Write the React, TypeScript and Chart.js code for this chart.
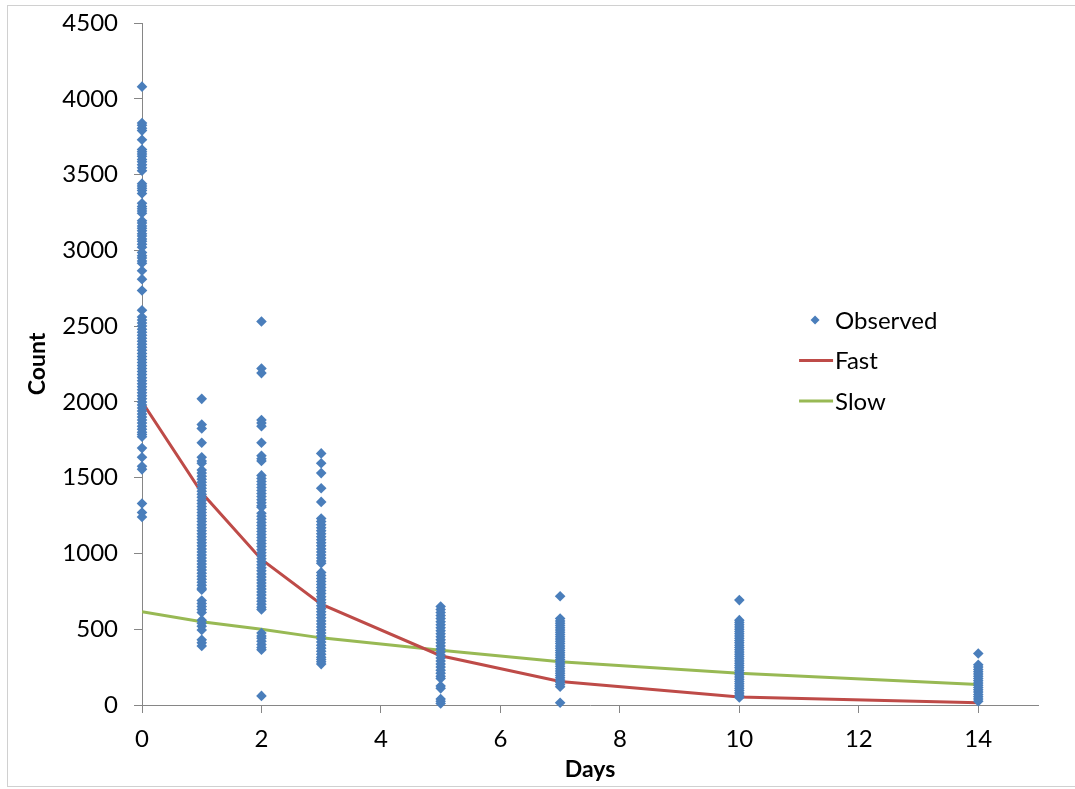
import React, { useEffect, useRef } from "react";
import { Chart, registerables } from "chart.js";

Chart.register(...registerables);

// Observation days
const days = [0, 1, 2, 3, 5, 7, 10, 14];

// Observed counts per day
const obsDay0 = [4080, 3840, 3825, 3805, 3790, 3730, 3665, 3650, 3635, 3620, 3600, 3585, 3565, 3545, 3525, 3440, 3425, 3410, 3395, 3375, 3310, 3290, 3275, 3260, 3245, 3195, 3180, 3160, 3145, 3130, 3110, 3095, 3075, 3060, 3040, 3020, 2985, 2965, 2950, 2930, 2915, 2865, 2810, 2735, 2605, 2560, 2540, 2520, 2500, 2480, 2460, 2440, 2420, 2400, 2380, 2360, 2340, 2320, 2300, 2280, 2260, 2240, 2220, 2200, 2180, 2160, 2140, 2120, 2100, 2080, 2060, 2040, 2020, 2000, 1980, 1960, 1940, 1920, 1900, 1880, 1860, 1840, 1820, 1800, 1785, 1770, 1695, 1635, 1575, 1555, 1330, 1270, 1240];
const obsDay1 = [2020, 1850, 1825, 1730, 1635, 1610, 1595, 1550, 1530, 1510, 1490, 1470, 1450, 1430, 1410, 1390, 1370, 1350, 1330, 1310, 1290, 1270, 1250, 1230, 1210, 1190, 1170, 1150, 1130, 1110, 1090, 1070, 1050, 1030, 1010, 990, 970, 950, 930, 910, 890, 870, 850, 830, 810, 790, 770, 760, 690, 670, 650, 630, 610, 560, 540, 520, 495, 430, 410, 390];
const obsDay2 = [2530, 2220, 2190, 1880, 1860, 1840, 1730, 1645, 1625, 1610, 1515, 1495, 1475, 1455, 1435, 1415, 1395, 1375, 1355, 1335, 1315, 1305, 1265, 1245, 1225, 1205, 1185, 1165, 1145, 1125, 1105, 1085, 1065, 1045, 1025, 1005, 985, 965, 945, 925, 905, 885, 865, 845, 825, 805, 785, 765, 745, 725, 705, 685, 665, 645, 630, 475, 455, 440, 420, 400, 380, 365, 60];
const obsDay3 = [1660, 1595, 1530, 1430, 1340, 1230, 1210, 1190, 1170, 1150, 1130, 1110, 1090, 1070, 1050, 1030, 1010, 990, 970, 950, 935, 875, 855, 835, 815, 795, 775, 755, 735, 715, 695, 675, 655, 635, 615, 595, 575, 555, 535, 515, 495, 475, 455, 435, 415, 395, 375, 355, 335, 315, 300, 285, 270];
const obsDay5 = [650, 630, 610, 590, 570, 550, 530, 510, 490, 470, 450, 430, 410, 390, 370, 350, 330, 310, 290, 270, 250, 230, 210, 190, 175, 125, 110, 40, 25, 10];
const obsDay7 = [718, 570, 555, 540, 525, 510, 495, 480, 465, 450, 435, 420, 405, 390, 375, 360, 345, 330, 315, 300, 285, 270, 255, 240, 225, 210, 195, 180, 165, 150, 135, 120, 15];
const obsDay10 = [692, 560, 545, 530, 515, 500, 485, 470, 455, 440, 425, 410, 395, 380, 365, 350, 335, 320, 305, 290, 275, 260, 245, 230, 215, 200, 185, 170, 155, 140, 125, 110, 95, 80, 65, 50];
const obsDay14 = [340, 265, 250, 235, 220, 205, 190, 175, 160, 145, 130, 115, 100, 85, 70, 55, 40, 25];
const observedByDay = [obsDay0, obsDay1, obsDay2, obsDay3, obsDay5, obsDay7, obsDay10, obsDay14];

// Model curves
const fastValues = [2000, 1400, 960, 665, 325, 155, 52, 15];
const slowValues = [615, 550, 500, 443, 362, 285, 210, 135];

// Axis ticks
const xTickValues = [0, 2, 4, 6, 8, 10, 12, 14];
const yTickValues = [0, 500, 1000, 1500, 2000, 2500, 3000, 3500, 4000, 4500];

const seriesNames = ["Observed", "Fast", "Slow"];
const BLUE = "#4A7EBB";
const RED = "#BE4B48";
const GREEN = "#98B954";
const AXIS = "#868686";
const FONT = "Lato, 'Open Sans', sans-serif";

export default function App() {
  const ref = useRef<HTMLCanvasElement | null>(null);

  useEffect(() => {
    document.body.style.margin = "0";
    const canvas = ref.current;
    if (!canvas) return;

    const observed = observedByDay.flatMap((vals, i) =>
      vals.map((v) => ({ x: days[i], y: v }))
    );
    const fast = days.map((d, i) => ({ x: d, y: fastValues[i] }));
    const slow = days.map((d, i) => ({ x: d, y: slowValues[i] }));

    const framePlugin = {
      id: "frame",
      beforeDraw(chart: any) {
        const ctx = chart.ctx;
        ctx.save();
        ctx.fillStyle = "#ffffff";
        ctx.fillRect(0, 0, chart.width, chart.height);
        ctx.strokeStyle = "#d0d0d0";
        ctx.lineWidth = 1;
        ctx.strokeRect(7.5, 5.5, 1200, 781);
        ctx.restore();
      },
    };

    const legendPlugin = {
      id: "innerLegend",
      afterDraw(chart: any) {
        const ctx = chart.ctx;
        const xs = chart.scales.x;
        const ys = chart.scales.y;
        const x0 = xs.getPixelForValue(11.0);
        const yTop = ys.getPixelForValue(2540);
        const gap = 40.5;
        ctx.save();
        ctx.font = `24px ${FONT}`;
        ctx.fillStyle = "#000";
        ctx.textBaseline = "middle";
        ctx.textAlign = "left";
        seriesNames.forEach((name, i) => {
          const y = yTop + i * gap;
          if (i === 0) {
            const cx = x0 + 16;
            const r = 4.5;
            ctx.fillStyle = BLUE;
            ctx.beginPath();
            ctx.moveTo(cx, y - r);
            ctx.lineTo(cx + r, y);
            ctx.lineTo(cx, y + r);
            ctx.lineTo(cx - r, y);
            ctx.closePath();
            ctx.fill();
          } else {
            ctx.strokeStyle = i === 1 ? RED : GREEN;
            ctx.lineWidth = 3;
            ctx.beginPath();
            ctx.moveTo(x0, y);
            ctx.lineTo(x0 + 34, y);
            ctx.stroke();
          }
          ctx.fillStyle = "#000";
          ctx.fillText(name, x0 + 36, y + 1);
        });
        ctx.restore();
      },
    };

    const chart = new Chart(canvas, {
      type: "scatter",
      data: {
        datasets: [
          {
            label: seriesNames[0],
            data: observed,
            order: 0,
            clip: false,
            pointStyle: "rectRot",
            pointRadius: 5.3,
            pointBorderWidth: 0,
            backgroundColor: BLUE,
            borderColor: BLUE,
            showLine: false,
          },
          {
            type: "line",
            label: seriesNames[1],
            data: fast,
            order: 1,
            borderColor: RED,
            borderWidth: 3,
            pointRadius: 0,
            tension: 0,
            fill: false,
          },
          {
            type: "line",
            label: seriesNames[2],
            data: slow,
            order: 2,
            borderColor: GREEN,
            borderWidth: 3,
            pointRadius: 0,
            tension: 0,
            fill: false,
          },
        ] as any,
      },
      options: {
        responsive: false,
        animation: false,
        events: [],
        layout: { padding: { top: 23, right: 37, left: 0, bottom: 0 } },
        plugins: {
          legend: { display: false },
          tooltip: { enabled: false },
        },
        scales: {
          x: {
            type: "linear",
            min: 0,
            max: 15,
            afterBuildTicks(scale: any) {
              scale.ticks = xTickValues.map((v) => ({ value: v }));
            },
            afterFit(scale: any) {
              scale.height = 84;
              scale.paddingLeft = 0;
              scale.paddingRight = 0;
            },
            grid: {
              drawOnChartArea: false,
              drawTicks: true,
              tickLength: 8,
              color: AXIS,
            },
            border: { display: true, color: AXIS, width: 1 },
            ticks: {
              font: { family: FONT, size: 24 },
              color: "#000",
              padding: 12,
              maxRotation: 0,
              callback: (v: any) => String(v),
            },
            title: {
              display: true,
              text: "Days",
              font: { family: FONT, size: 23, weight: "bold" },
              color: "#000",
              padding: { top: 0, bottom: 6 },
            },
          },
          y: {
            type: "linear",
            min: 0,
            max: 4500,
            afterBuildTicks(scale: any) {
              scale.ticks = yTickValues.map((v) => ({ value: v }));
            },
            afterFit(scale: any) {
              scale.width = 142;
              scale.paddingTop = 0;
              scale.paddingBottom = 0;
            },
            grid: {
              drawOnChartArea: false,
              drawTicks: true,
              tickLength: 8,
              color: AXIS,
            },
            border: { display: true, color: AXIS, width: 1 },
            ticks: {
              font: { family: FONT, size: 24 },
              color: "#000",
              padding: 16,
              callback: (v: any) => String(v),
            },
            title: {
              display: true,
              text: "Count",
              font: { family: FONT, size: 23, weight: "bold" },
              color: "#000",
              padding: { top: 24, bottom: 0 },
            },
          },
        },
      } as any,
      plugins: [framePlugin, legendPlugin],
    });

    return () => chart.destroy();
  }, []);

  return (
    <div style={{ width: 1075, height: 789 }}>
      <canvas ref={ref} width={1075} height={789} style={{ display: "block" }} />
    </div>
  );
}
